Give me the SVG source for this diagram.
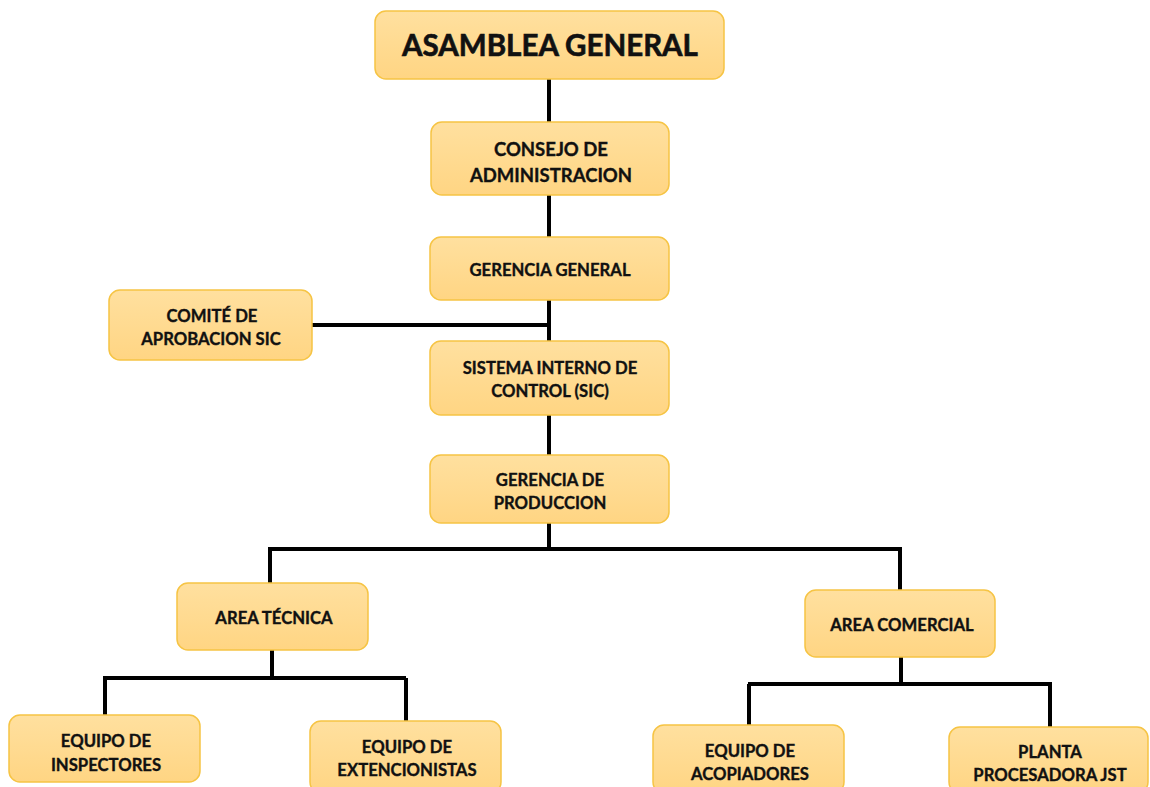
<svg xmlns="http://www.w3.org/2000/svg" width="1150" height="787" viewBox="0 0 1150 787">
  <defs>
    <linearGradient id="boxFill" x1="0" y1="0" x2="0" y2="1">
      <stop offset="0" stop-color="#FFE09F"/>
      <stop offset="1" stop-color="#FFD583"/>
    </linearGradient>
    <style>
      .box { fill: url(#boxFill); stroke: #F6C444; stroke-width: 1.5; }
      .lbl { font-family: Lato, "Liberation Sans", sans-serif; font-weight: bold; fill: #111; stroke: #111; stroke-width: 0.35; text-anchor: middle; }
      .t18 { font-size: 18.5px; }
      .t16 { font-size: 16.7px; }
      .big { font-size: 29.5px; stroke-width: 0.6; }
      .wire { fill: none; stroke: #000; stroke-width: 4; }
    </style>
  </defs>
  <rect width="1150" height="787" fill="#fff"/>

  <g id="connectors">
    <path class="wire" d="M549 79V122M549 195V238M549 300V342M312 325H549M549 415V455M549 523V549M270 549H902M270 547V583M900 549V590"/>
    <path class="wire" d="M272 650V678M105 678H406M105 676V715M406 678V721"/>
    <path class="wire" d="M901 657V684M748 684H1050M749 684V725M1050 682V727"/>
  </g>

  <g id="asamblea">
    <rect class="box" x="375" y="11" width="349" height="68" rx="11"/>
    <text class="lbl big" x="550" y="56">ASAMBLEA GENERAL</text>
  </g>
  <g id="consejo">
    <rect class="box" x="431" y="122" width="238" height="73" rx="11"/>
    <text class="lbl t18" x="551" y="156">CONSEJO DE</text>
    <text class="lbl t18" x="551" y="182">ADMINISTRACION</text>
  </g>
  <g id="gerencia-general">
    <rect class="box" x="430" y="237" width="239" height="63" rx="11"/>
    <text class="lbl t16" x="550" y="276">GERENCIA GENERAL</text>
  </g>
  <g id="comite">
    <rect class="box" x="109" y="290" width="203" height="70" rx="11"/>
    <text class="lbl t16" x="212" y="322">COMITÉ DE</text>
    <text class="lbl t16" x="211" y="345">APROBACION SIC</text>
  </g>
  <g id="sic">
    <rect class="box" x="430" y="341" width="239" height="74" rx="11"/>
    <text class="lbl t16" x="550" y="374">SISTEMA INTERNO DE</text>
    <text class="lbl t16" x="550" y="397">CONTROL (SIC)</text>
  </g>
  <g id="gerencia-produccion">
    <rect class="box" x="430" y="455" width="239" height="68" rx="11"/>
    <text class="lbl t16" x="550" y="486">GERENCIA DE</text>
    <text class="lbl t16" x="550" y="509">PRODUCCION</text>
  </g>
  <g id="area-tecnica">
    <rect class="box" x="177" y="583" width="191" height="67" rx="11"/>
    <text class="lbl t16" x="274" y="624">AREA TÉCNICA</text>
  </g>
  <g id="area-comercial">
    <rect class="box" x="805" y="590" width="190" height="67" rx="11"/>
    <text class="lbl t16" x="902" y="631">AREA COMERCIAL</text>
  </g>
  <g id="inspectores">
    <rect class="box" x="9" y="715" width="191" height="67" rx="11"/>
    <text class="lbl t16" x="106" y="747">EQUIPO DE</text>
    <text class="lbl t16" x="106" y="771">INSPECTORES</text>
  </g>
  <g id="extencionistas">
    <rect class="box" x="310" y="721" width="191" height="72" rx="11"/>
    <text class="lbl t16" x="407" y="753">EQUIPO DE</text>
    <text class="lbl t16" x="407" y="776">EXTENCIONISTAS</text>
  </g>
  <g id="acopiadores">
    <rect class="box" x="653" y="725" width="191" height="68" rx="11"/>
    <text class="lbl t16" x="750" y="757">EQUIPO DE</text>
    <text class="lbl t16" x="750" y="780">ACOPIADORES</text>
  </g>
  <g id="planta">
    <rect class="box" x="949" y="727" width="199" height="66" rx="11"/>
    <text class="lbl t16" x="1050" y="758">PLANTA</text>
    <text class="lbl t16" x="1050" y="781">PROCESADORA JST</text>
  </g>
</svg>
